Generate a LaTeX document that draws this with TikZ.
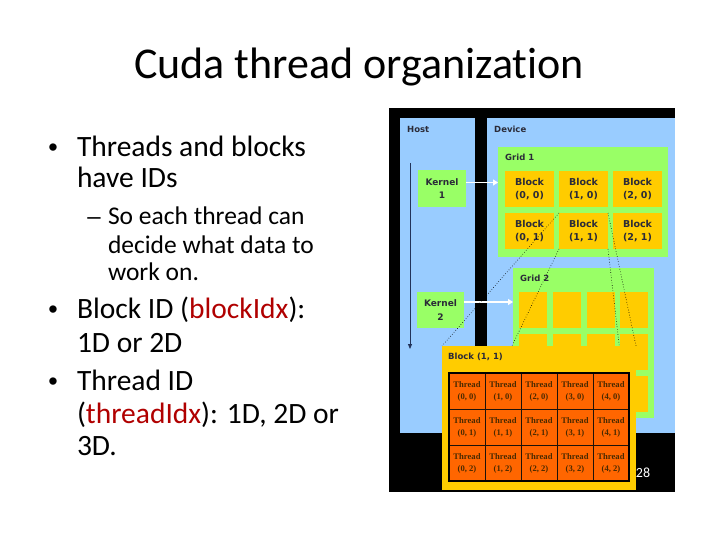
\documentclass[tikz,border=0pt]{standalone}
\usepackage{fontspec}
\setmainfont{Carlito}[Ligatures={NoCommon}]
\newfontfamily\diagfont{DejaVu Sans}
\newfontfamily\thrfont{Liberation Serif}
\newfontfamily\bulfont{Liberation Sans}
\usetikzlibrary{arrows.meta}
\definecolor{blueP}{HTML}{99CCFF}
\definecolor{greenP}{HTML}{99FF66}
\definecolor{blockY}{HTML}{FFCC00}
\definecolor{threadO}{HTML}{FF6600}
\definecolor{dtext}{HTML}{2B2B38}
\definecolor{thrtext}{HTML}{4A2A00}
\definecolor{idred}{HTML}{B00000}
\definecolor{hostline}{HTML}{22335A}
\begin{document}
\begin{tikzpicture}[x=1pt,y=-1pt,
  panel/.style={anchor=north west, inner sep=0pt, outer sep=0pt, draw=none},
  lbl/.style={anchor=west, inner sep=0pt, font=\diagfont\bfseries\fontsize{8.5}{10}\selectfont, text=dtext},
  blk/.style={anchor=north west, inner sep=0pt, outer sep=0pt, fill=blockY, minimum width=49pt, minimum height=36pt, align=center, font=\diagfont\bfseries\fontsize{9.5}{13.5}\selectfont, text=dtext},
  blk2/.style={anchor=north west, inner sep=0pt, outer sep=0pt, fill=blockY, minimum width=28pt, minimum height=36pt},
  kern/.style={anchor=north west, inner sep=0pt, outer sep=0pt, fill=greenP, align=center, font=\diagfont\bfseries\fontsize{9}{13.5}\selectfont, text=dtext},
  cell/.style={anchor=north west, inner sep=0pt, outer sep=0pt, fill=threadO, draw=black!85!brown, line width=0.6pt, minimum size=36pt, align=center, font=\thrfont\bfseries\fontsize{8.6}{12}\selectfont, text=thrtext},
  warr/.style={draw=white, line width=1.6pt, -{Triangle[length=5pt,width=6pt]}},
  dline/.style={draw=black, dotted, line width=0.6pt},
  txt/.style={anchor=base west, inner sep=0pt, outer sep=0pt},
  bul/.style={anchor=base, inner sep=0pt, outer sep=0pt, font=\bulfont\fontsize{27}{30}\selectfont},
  big/.style={font=\fontsize{29.5}{32}\selectfont},
  small/.style={font=\fontsize{25.5}{28}\selectfont}]
\useasboundingbox (0,0) rectangle (720,540);

% title
\node[anchor=base, inner sep=0pt, font=\fontsize{44}{48}\selectfont] (title) at (359,79) {Cuda thread organization};

% left text
\node[bul] (u1) at (53,157) {•};
\node[txt, big] (l1) at (77,157) {Threads and blocks};
\node[txt, big] (l2) at (77,188) {have IDs};
\node[bul, font=\bulfont\fontsize{24}{28}\selectfont] (u2) at (94,225) {–};
\node[txt, small] (l3) at (108,225) {So each thread can};
\node[txt, small] (l4) at (108,253) {decide what data to};
\node[txt, small] (l5) at (108,280) {work on.};
\node[bul] (u3) at (53,318) {•};
\node[txt, big] (l6) at (77,318) {Block ID (\textcolor{idred}{blockIdx}):};
\node[txt, big] (l7) at (77,352) {1D or 2D};
\node[bul] (u4) at (53,390) {•};
\node[txt, big] (l8) at (77,390) {Thread ID};
\node[txt, big] (l9) at (77,423) {(\textcolor{idred}{threadIdx}): 1D, 2D or};
\node[txt, big] (l10) at (77,455) {3D.};

% diagram panels
\node[panel, fill=black, minimum width=286pt, minimum height=384pt] (bg) at (389,108) {};
\node[panel, fill=blueP, minimum width=75pt, minimum height=315pt] (host) at (400,118) {};
\node[panel, fill=blueP, minimum width=188pt, minimum height=315pt] (dev) at (487,118) {};
\node[lbl] (hostl) at (407,129) {Host};
\node[lbl] (devl) at (494,129) {Device};

% grid 1
\node[panel, fill=greenP, minimum width=170pt, minimum height=110pt] (g1) at (498,147) {};
\node[lbl] (g1l) at (505,157) {Grid 1};
\foreach \i/\x in {0/505,1/559,2/613}
  \foreach \j/\y in {0/171,1/213}
    \node[blk] (b\i\j) at (\x,\y) {Block\\(\i, \j)};

% kernels
\node[kern, minimum width=48pt, minimum height=37pt] (k1) at (418,170) {Kernel\\1};
\node[kern, minimum width=47pt, minimum height=36pt] (k2) at (417,292) {Kernel\\2};

% grid 2
\node[panel, fill=greenP, minimum width=141pt, minimum height=150pt] (g2) at (513,268) {};
\node[lbl] (g2l) at (520,278) {Grid 2};
\foreach \i/\x in {0/519,1/553,2/587,3/620}
  \foreach \j/\y in {0/292,1/334,2/376}
    \node[blk2] (c\i\j) at (\x,\y) {};

% host timeline
\coordinate (hs) at (410,163);
\coordinate (he) at (410,349);
\draw[hostline, line width=0.8pt, -{Triangle[length=5pt,width=4pt]}] (hs) -- (he);

% kernel launch arrows
\draw[warr] ([yshift=6pt]k1.east) -- ([yshift=6pt]k1.east -| g1.west);
\draw[warr] ([yshift=8pt]k2.east) -- ([yshift=8pt]k2.east -| g2.west);

% block (1,1) overlay
\draw[dline] (b11.north west) -- (442,346);
\draw[dline] (b11.south west) -- (442,490);
\draw[dline] (b11.north east) -- (636,346);
\draw[dline] (b11.south east) -- (636,490);
\node[panel, fill=blockY, minimum width=194pt, minimum height=144pt] (ov) at (442,346) {};
\node[lbl] (ovl) at (448,357) {Block (1, 1)};
\foreach \i in {0,...,4}
  \foreach \j in {0,...,2}
    \node[cell] (t\i\j) at ({449+36*\i},{373+36*\j}) {Thread\\(\i, \j)};
\draw[black, line width=1.4pt] (t00.north west) rectangle (t42.south east);

% slide number
\node[anchor=center, inner sep=0pt, text=white, font=\fontsize{14}{15}\selectfont] (num) at (643,473) {28};
\end{tikzpicture}
\end{document}
